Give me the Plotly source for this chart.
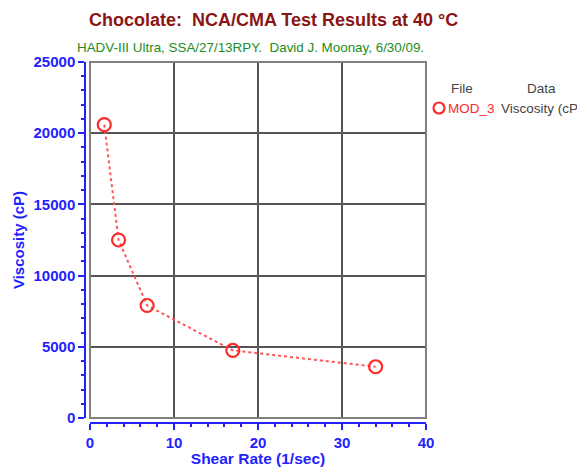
import plotly.graph_objects as go

shear_rate = [1.7, 3.4, 6.8, 17, 34]
viscosity = [20600, 12500, 7900, 4750, 3600]
x_ticks = [0, 10, 20, 30, 40]
y_ticks = [0, 5000, 10000, 15000, 20000, 25000]

OFF = 8  # page body margin offset
W, H = 585 - OFF, 467 - OFF
# page-pixel targets: plot left 90 (axis line 85), right 426, top 62, x axis line 423
ML = 85 - OFF
MR = W + OFF - 426
MT = 62 - OFF
MB = H + OFF - 423
PW = W - ML - MR
PH = H - MT - MB

BLUE = "#2222FF"
RED = "#FF2A2A"
FONT = "Liberation Sans, Arial, sans-serif"

fig = go.Figure()
fig.add_trace(go.Scatter(
    x=shear_rate, y=viscosity, mode="lines+markers", name="MOD_3",
    line=dict(color="#FF5555", width=2, dash="dot"),
    marker=dict(symbol="circle-open", size=13, color=RED, line=dict(width=2.2, color=RED)),
    showlegend=False,
))

axis_font = dict(family=FONT, size=15, color=BLUE, weight="bold")
title_font = dict(family=FONT, size=15.5, color=BLUE, weight="bold")
fig.update_layout(
    width=W, height=H,
    margin=dict(l=ML, r=MR, t=MT, b=MB, autoexpand=False),
    paper_bgcolor="white", plot_bgcolor="white",
    xaxis=dict(
        domain=[5 / PW, 1], range=[0, 40], tickvals=x_ticks,
        anchor="free", position=0, automargin=False,
        showline=True, linecolor=BLUE, linewidth=1.5,
        ticks="outside", ticklen=6, tickcolor=BLUE, tickwidth=1.5,
        minor=dict(dtick=2, ticks="outside", ticklen=3, tickcolor=BLUE, tickwidth=1.5, showgrid=False),
        showgrid=True, gridcolor="#555555", gridwidth=2,
        tickfont=axis_font, zeroline=False,
        title=dict(text="Shear Rate (1/sec)", font=title_font, standoff=5),
    ),
    yaxis=dict(
        domain=[5 / PH, 1], range=[0, 25000], tickvals=y_ticks,
        ticktext=[str(v) for v in y_ticks],
        anchor="free", position=0, automargin=False,
        showline=True, linecolor=BLUE, linewidth=1.5,
        ticks="outside", ticklen=6, tickcolor=BLUE, tickwidth=1.5,
        minor=dict(dtick=1000, ticks="outside", ticklen=3, tickcolor=BLUE, tickwidth=1.5, showgrid=False),
        showgrid=True, gridcolor="#555555", gridwidth=2,
        tickfont=axis_font, zeroline=False,
        title=dict(text="Viscosity (cP)", font=axis_font, standoff=4),
    ),
    showlegend=False,
)

# plot border
fig.add_shape(type="rect", xref="x domain", yref="y domain", x0=0, x1=1, y0=0, y1=1,
              line=dict(color="#808080", width=2), layer="above")

def px(xp):
    return (xp - OFF - ML) / PW

def py(yp):
    return (H - MB - (yp - OFF)) / PH

# titles
fig.add_annotation(text="Chocolate:  NCA/CMA Test Results at 40 °C", xref="paper", yref="paper",
                   x=px(273), y=py(20), xanchor="center", yanchor="middle",
                   showarrow=False, font=dict(family=FONT, size=18, color="#8B1414", weight="bold"))
fig.add_annotation(text="HADV-III Ultra, SSA/27/13RPY.  David J. Moonay, 6/30/09.", xref="paper", yref="paper",
                   x=px(75), y=py(47.5), xanchor="left", yanchor="middle",
                   showarrow=False, font=dict(family=FONT, size=13.4, color="#1E8C1E"))

# legend (manual)
leg_font = dict(family=FONT, size=13.5, color="#444444")
fig.add_annotation(text="File", xref="paper", yref="paper", x=px(462), y=py(88),
                   xanchor="center", yanchor="middle", showarrow=False, font=leg_font)
fig.add_annotation(text="Data", xref="paper", yref="paper", x=px(541), y=py(88),
                   xanchor="center", yanchor="middle", showarrow=False, font=leg_font)
fig.add_annotation(text="MOD_3", xref="paper", yref="paper", x=px(446), y=py(108),
                   xanchor="left", yanchor="middle", showarrow=False,
                   font=dict(family=FONT, size=13.5, color=RED))
fig.add_annotation(text="Viscosity (cP)", xref="paper", yref="paper", x=px(499), y=py(108),
                   xanchor="left", yanchor="middle", showarrow=False, font=leg_font)
r = 5.5
fig.add_shape(type="circle", xref="paper", yref="paper",
              x0=px(439 - r), x1=px(439 + r), y0=py(108 + r), y1=py(108 - r),
              line=dict(color=RED, width=2.2))

fig.write_html("out.html")
